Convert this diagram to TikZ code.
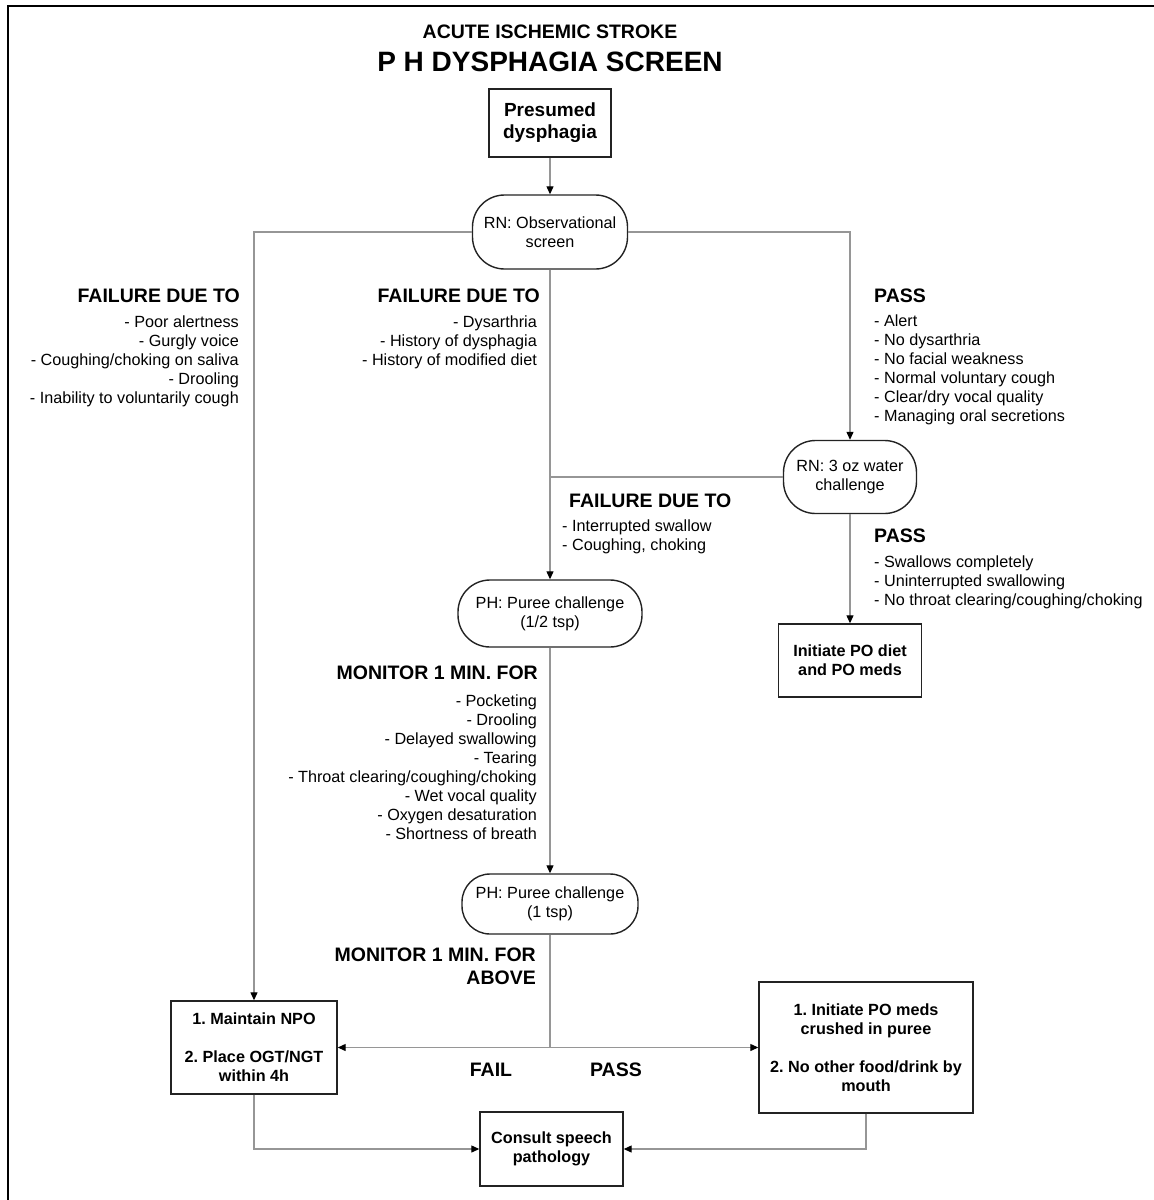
\documentclass[tikz,border=0pt]{standalone}
\usepackage{fontspec}
\setmainfont{Liberation Sans}
\usetikzlibrary{arrows.meta,positioning,calc}
\definecolor{lineGray}{RGB}{150,150,150}
\definecolor{boxBlack}{RGB}{35,35,35}
\frenchspacing
\newcommand{\itemfont}{\fontsize{16.2}{19}\selectfont}
\newcommand{\headfont}{\fontsize{19.5}{23}\selectfont\bfseries}
\tikzset{
  box/.style={draw=boxBlack, line width=1.4pt, align=center, inner sep=2pt,
              font=\itemfont\bfseries},
  ovalbox/.style={box, rounded corners=32pt, font=\itemfont},
  arrow/.style={-{Triangle[length=8pt,width=7pt,color=black]}, line width=1.2pt, draw=lineGray},
  plainline/.style={line width=1.2pt, draw=lineGray},
  heading/.style={font=\headfont, inner sep=0pt},
  itemlist/.style={font=\itemfont, inner sep=0pt}
}

\begin{document}
\begin{tikzpicture}[x=1pt, y=-1pt]
\useasboundingbox (0,0) rectangle (1154,1200);
% frame
\draw[line width=2pt, black] (8,1200) -- (8,5.5) -- (1154,5.5);

% title
\node[heading] (title) at (550,32) {ACUTE ISCHEMIC STROKE};
\node[font=\fontsize{28}{32}\selectfont\bfseries, inner sep=0pt] (subtitle) at (550,62) {P H DYSPHAGIA SCREEN};

% boxes
\node[box, font=\fontsize{19}{22}\selectfont\bfseries, minimum width=122, minimum height=68] (presumed) at (550,123) {Presumed\\dysphagia};
\node[ovalbox, minimum width=155, minimum height=74] (obs) at (550,232) {RN: Observational\\screen};
\node[ovalbox, minimum width=133, minimum height=73] (water) at (850,477) {RN: 3 oz water\\challenge};
\node[ovalbox, minimum width=184, minimum height=67] (pureeA) at (550,613.5) {PH: Puree challenge\\(1/2 tsp)};
\node[ovalbox, rounded corners=28pt, minimum width=176, minimum height=60] (pureeB) at (550,904) {PH: Puree challenge\\(1 tsp)};
\node[box, minimum width=143, minimum height=73] (diet) at (850,660.5) {Initiate PO diet\\and PO meds};
\node[box, minimum width=166, minimum height=93] (npo) at (254,1047.5) {1. Maintain NPO\\[19pt]2. Place OGT/NGT\\within 4h};
\node[box, minimum width=214, minimum height=131] (meds) at (866,1047.5) {1. Initiate PO meds\\crushed in puree\\[19pt]2. No other food/drink by\\mouth};
\node[box, minimum width=143, minimum height=74] (consult) at (551.5,1149) {Consult speech\\pathology};

% labels
\node[heading, anchor=base east] (failA) at (240,302) {FAILURE DUE TO};
\node[itemlist, anchor=north east, align=right] (failAlist) at (239,316) {- Poor alertness\\- Gurgly voice\\- Coughing/choking on saliva\\- Drooling\\- Inability to voluntarily cough};
\node[heading, anchor=base east] (failB) at (540,302) {FAILURE DUE TO};
\node[itemlist, anchor=north east, align=right] (failBlist) at (537,316) {- Dysarthria\\- History of dysphagia\\- History of modified diet};
\node[heading, anchor=base west] (passA) at (874,302) {PASS};
\node[itemlist, anchor=north west, align=left] (passAlist) at (874,315) {- Alert\\- No dysarthria\\- No facial weakness\\- Normal voluntary cough\\- Clear/dry vocal quality\\- Managing oral secretions};
\node[heading, anchor=base west] (failC) at (569,507) {FAILURE DUE TO};
\node[itemlist, anchor=north west, align=left] (failClist) at (562,520) {- Interrupted swallow\\- Coughing, choking};
\node[heading, anchor=base west] (passB) at (874,542) {PASS};
\node[itemlist, anchor=north west, align=left] (passBlist) at (874,556) {- Swallows completely\\- Uninterrupted swallowing\\- No throat clearing/coughing/choking};
\node[heading, anchor=base east] (monA) at (538,679) {MONITOR 1 MIN. FOR};
\node[itemlist, anchor=north east, align=right] (monAlist) at (537,695) {- Pocketing\\- Drooling\\- Delayed swallowing\\- Tearing\\- Throat clearing/coughing/choking\\- Wet vocal quality\\- Oxygen desaturation\\- Shortness of breath};
\node[heading, anchor=north east, align=right] (monB) at (536,948) {MONITOR 1 MIN. FOR\\ABOVE};
\node[heading] (fail) at (491,1070) {FAIL};
\node[heading] (pass) at (616,1070) {PASS};

% connectors
\coordinate (join) at (obs.south |- water.west);
\coordinate (split) at (pureeB.south |- npo.east);
\draw[arrow] (presumed) -- (obs);
\draw[arrow] (obs.west) -| (npo.north);
\draw[arrow] (obs.east) -| (water.north);
\draw[arrow] (obs.south) -- (pureeA.north);
\draw[plainline] (water.west) -- (join);
\draw[arrow] (water.south) -- (diet.north);
\draw[arrow] (pureeA.south) -- (pureeB.north);
\draw[plainline] (pureeB.south) -- (split);
\draw[arrow] (split) -- (npo.east);
\draw[arrow] (split) -- (meds.west);
\draw[arrow] (npo.south) |- (consult.west);
\draw[arrow] (meds.south) |- (consult.east);
\end{tikzpicture}
\end{document}
